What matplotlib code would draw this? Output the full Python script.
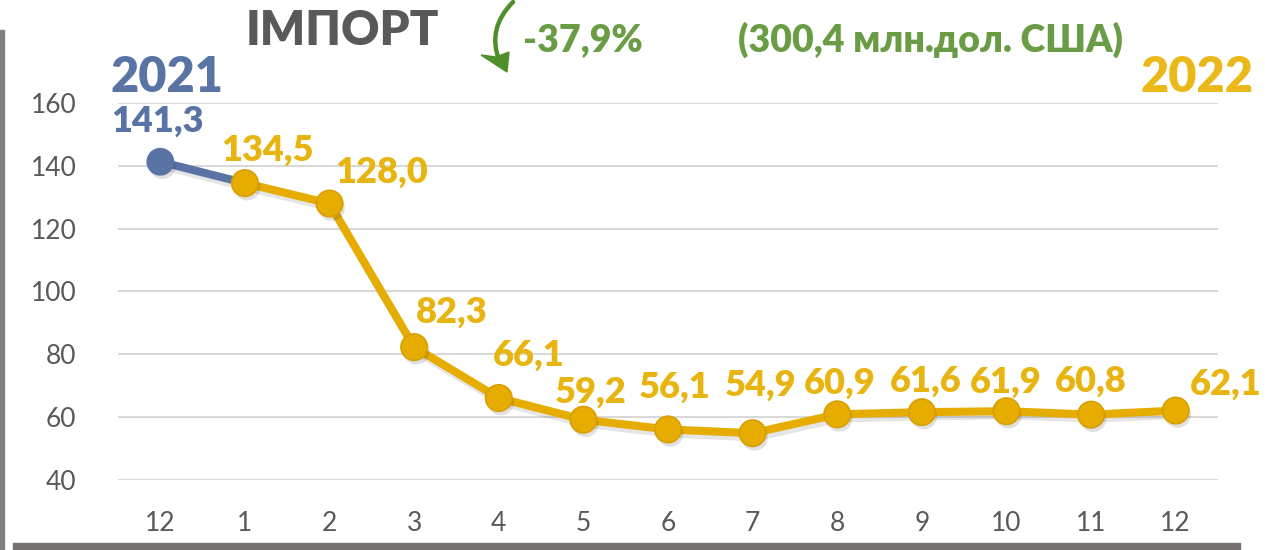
import matplotlib
matplotlib.use("Agg")
import matplotlib.pyplot as plt
import matplotlib.patheffects as pe
from matplotlib.patches import Rectangle, PathPatch, Polygon
from matplotlib.path import Path

months = ['12', '1', '2', '3', '4', '5', '6', '7', '8', '9', '10', '11', '12']
values = [141.3, 134.5, 128.0, 82.3, 66.1, 59.2, 56.1, 54.9, 60.9, 61.6, 61.9, 60.8, 62.1]
labels = ['141,3', '134,5', '128,0', '82,3', '66,1', '59,2', '56,1', '54,9',
          '60,9', '61,6', '61,9', '60,8', '62,1']
yticks = [40, 60, 80, 100, 120, 140, 160]
title = 'ІМПОРТ'
change = '-37,9%'
total = '(300,4 млн.дол. США)'
year_prev = '2021'
year_cur = '2022'

# label offsets in pixels (dx, dy up)
offsets = [(-3, 40), (22, 33), (52, 31), (38, 35), (30, 43), (7, 27), (7, 42),
           (8, 48), (3, 31), (4, 31), (-1, 29), (0, 33), (50, 26)]

GOLD = '#E6AC00'
GOLD_EDGE = '#D89F00'
GOLD_TXT = '#E8B40F'
BLUE = '#5A73A5'
GREEN = '#6A9C45'
GRAY = '#595959'
ARROW = '#4E8F2A'

plt.rcParams['font.family'] = ['Lato', 'DejaVu Sans']

W, H = 1265, 550
fig = plt.figure(figsize=(W / 100, H / 100), dpi=100)
ax = fig.add_axes([118 / W, 1 - 480 / H, (1218 - 118) / W, (480 - 103) / H])

x = list(range(len(months)))
shadow = [pe.SimpleLineShadow(offset=(1.5, -3), shadow_color='#000000', alpha=0.10), pe.Normal()]
mshadow = [pe.SimplePatchShadow(offset=(1.5, -3), shadow_rgbFace='k', alpha=0.12), pe.Normal()]

# blue segment (Dec 2021 -> Jan 2022)
ax.plot(x[:2], values[:2], color=BLUE, lw=5.8, solid_capstyle='round', zorder=3,
        path_effects=shadow)
ax.plot(x[0], values[0], 'o', color=BLUE, ms=19, mec=BLUE, zorder=5,
        path_effects=mshadow)
# gold 2022 series
ax.plot(x[1:], values[1:], color=GOLD, lw=5.8, solid_joinstyle='round', zorder=4,
        path_effects=shadow)
ax.plot(x[1:], values[1:], 'o', color=GOLD, ms=19, mec=GOLD_EDGE, mew=1.2, zorder=6,
        path_effects=mshadow)

for i, (xi, v, lab) in enumerate(zip(x, values, labels)):
    col = BLUE if i == 0 else GOLD_TXT
    dx, dy = offsets[i]
    ax.annotate(lab, (xi, v), xytext=(dx, dy), textcoords='offset pixels',
                ha='center', va='center', fontsize=26, fontweight='heavy',
                color=col, zorder=7, annotation_clip=False)

ax.set_xlim(-0.5, len(months) - 0.5)
ax.set_ylim(40, 160)
ax.set_yticks(yticks)
ax.set_xticks(x)
ax.set_xticklabels(months)
ax.grid(axis='y', color='#D9D9D9', lw=1.5)
ax.set_axisbelow(True)
for s in ax.spines.values():
    s.set_visible(False)
ax.tick_params(length=0, labelsize=19, labelcolor=GRAY)
ax.tick_params(axis='x', pad=22)
ax.tick_params(axis='y', pad=30)

# titles
fig.text(342 / W, 1 - 31 / H, title, ha='center', va='center', fontsize=34,
         fontweight='heavy', color=GRAY)
fig.text(583 / W, 1 - 40 / H, change, ha='center', va='center', fontsize=27,
         fontweight='heavy', color=GREEN)
fig.text(930 / W, 1 - 40 / H, total, ha='center', va='center', fontsize=27,
         fontweight='heavy', color=GREEN)
fig.text(167 / W, 1 - 77 / H, year_prev, ha='center', va='center', fontsize=35,
         fontweight='heavy', color=BLUE)
fig.text(1197 / W, 1 - 78 / H, year_cur, ha='center', va='center', fontsize=35,
         fontweight='heavy', color='#EBB819')


# curved arrow (decoration) drawn in pixel-from-top coordinates
def fp(px, py):
    return (px / W, 1 - py / H)


shaft = Path([fp(513, 2), fp(487, 28), fp(499, 60)],
             [Path.MOVETO, Path.CURVE3, Path.CURVE3])
fig.patches.append(PathPatch(shaft, transform=fig.transFigure, fill=False,
                             lw=3.2, edgecolor=ARROW, capstyle='round'))
fig.patches.append(Polygon([fp(507, 72), fp(481, 55), fp(496, 57), fp(509, 52)],
                           closed=True, transform=fig.transFigure,
                           facecolor=ARROW, edgecolor=ARROW, lw=1))

# frame decorations
fig.patches.append(Rectangle((0, 0), 4 / W, (550 - 30) / H, transform=fig.transFigure,
                             color='#7F7F7F', zorder=0))
fig.patches.append(Rectangle((13 / W, 0), (1240 - 13) / W, 7 / H, transform=fig.transFigure,
                             color='#767171', zorder=0))

fig.savefig('out.png', dpi=100)
